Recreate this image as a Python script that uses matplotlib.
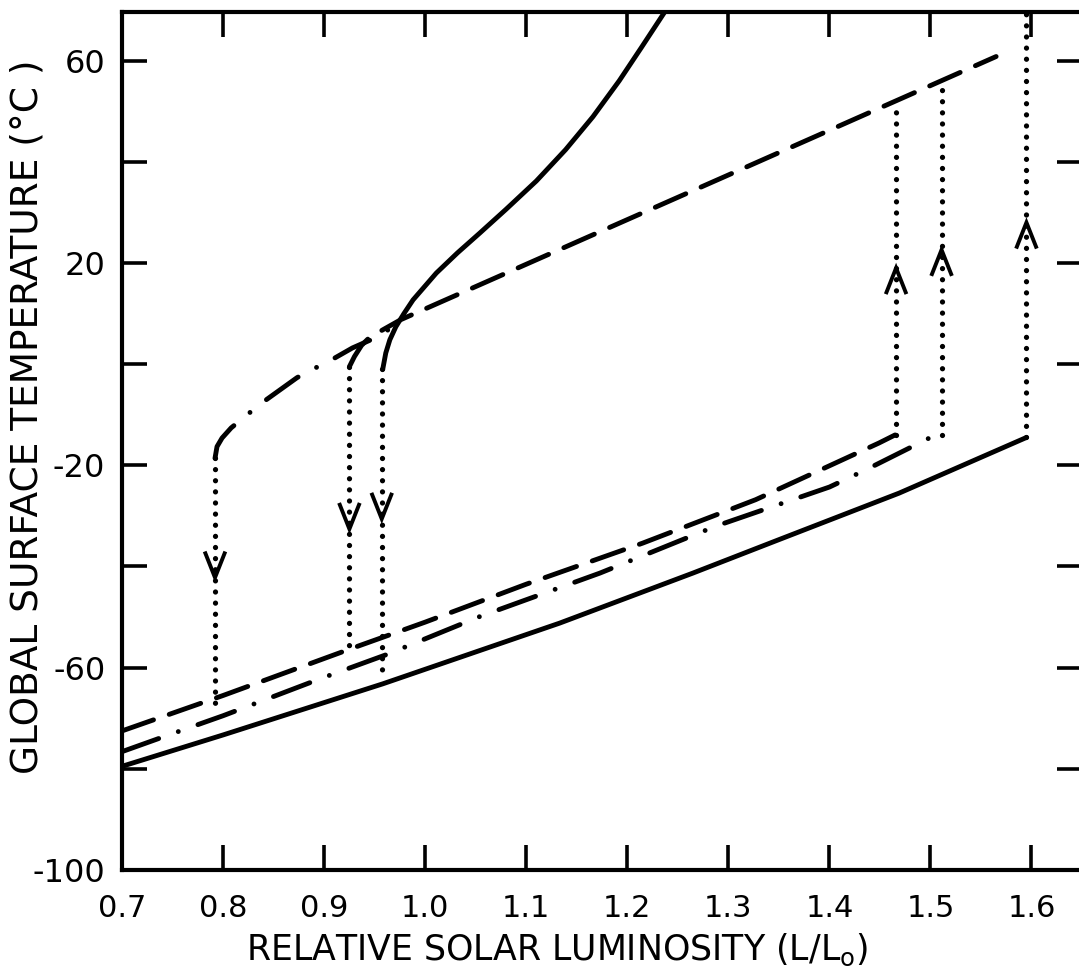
import numpy as np
import matplotlib.pyplot as plt

plt.rcParams['lines.scale_dashes'] = False
plt.rcParams['font.family'] = 'DejaVu Sans'
plt.rcParams['mathtext.fontset'] = 'dejavusans'

# lower (ice-covered) branches
solid_low_x = [0.70, 0.80, 0.958, 1.133, 1.265, 1.35, 1.469, 1.595]
solid_low_y = [-79.5, -73.3, -63.2, -51.2, -41.3, -34.7, -25.5, -14.5]
dashed_low_x = [0.70, 0.80, 0.93, 1.00, 1.10, 1.215, 1.327, 1.449, 1.465]
dashed_low_y = [-72.5, -65.5, -56.0, -51.0, -43.5, -35.4, -26.8, -15.6, -14.0]
dashdot_low_x = [0.70, 0.742, 0.80, 0.896, 0.962, 1.054, 1.173, 1.288, 1.40, 1.436, 1.505]
dashdot_low_y = [-76.6, -73.6, -69.5, -62.2, -57.4, -49.9, -41.3, -32.0, -24.3, -20.9, -14.0]

# upper (warm) branches
solid_up_x = [0.958, 0.961, 0.965, 0.971, 0.979, 0.988, 1.011, 1.032, 1.054, 1.080,
              1.110, 1.139, 1.166, 1.192, 1.214, 1.237]
solid_up_y = [-1.0, 2.2, 4.8, 7.4, 10.0, 12.7, 18.0, 22.0, 25.9, 30.6,
              36.2, 42.4, 48.9, 56.0, 62.6, 69.6]
dashed_up_x = [0.925, 0.930, 0.937, 0.945, 0.960, 0.976, 1.29, 1.565]
dashed_up_y = [-0.5, 1.5, 3.7, 5.3, 7.0, 8.8, 36.5, 60.8]
dashdot_up_x = [0.792, 0.794, 0.799, 0.808, 0.830, 0.843, 0.873, 0.887, 0.899, 0.928, 0.953, 0.965]
dashdot_up_y = [-18.6, -16.3, -14.6, -12.6, -9.0, -7.0, -2.7, -1.1, -0.1, 3.2, 5.4, 7.0]

# dotted jumps between branches
jump_x = [0.792, 0.925, 0.957, 1.466, 1.511, 1.595]
jump_from = [-18.6, -0.5, -1.0, -14.0, -14.0, -14.5]
jump_to = [-68.0, -56.0, -62.5, 50.0, 55.0, 69.6]
arrow_tip = [-42.2, -32.6, -30.6, 19.0, 22.6, 28.0]

x_ticks = [0.7, 0.8, 0.9, 1.0, 1.1, 1.2, 1.3, 1.4, 1.5, 1.6]
y_ticks = [-100, -80, -60, -40, -20, 0, 20, 40, 60]
y_labels = ['-100', '', '-60', '', '-20', '', '20', '', '60']

fig = plt.figure(figsize=(10.79, 9.77), dpi=100)
ax = fig.add_axes([0.1131, 0.1095, 0.8897, 0.8782])

lw = 3.5
dash = (0, (24, 12))
dashdot = (0, (28, 15, 0.01, 15))
dots = (0, (0.01, 8))

ax.plot(solid_low_x, solid_low_y, color='black', lw=lw, solid_capstyle='round')
ax.plot(solid_up_x, solid_up_y, color='black', lw=lw, solid_capstyle='round')
ax.plot(dashed_low_x, dashed_low_y, color='black', lw=lw, linestyle=dash, dash_capstyle='round')
ax.plot(dashed_up_x, dashed_up_y, color='black', lw=lw, linestyle=dash, dash_capstyle='round')
ax.plot(dashdot_low_x, dashdot_low_y, color='black', lw=lw, linestyle=dashdot, dash_capstyle='round')
ax.plot(dashdot_up_x, dashdot_up_y, color='black', lw=lw, linestyle=dashdot, dash_capstyle='round')

# dotted transitions with open chevron arrows
hw, hh = 0.0095, 4.8
for x0, y0, y1, tip in zip(jump_x, jump_from, jump_to, arrow_tip):
    ax.plot([x0, x0], [y0, y1], color='black', lw=3.8, linestyle=dots, dash_capstyle='round')
    s = -1 if y1 < y0 else 1
    ax.plot([x0 - hw, x0, x0 + hw], [tip - s * hh, tip, tip - s * hh],
            color='black', lw=2.8, solid_joinstyle='miter')

ax.set_xlim(0.7, 1.65)
ax.set_ylim(-100, 69.6)
ax.set_xticks(x_ticks)
ax.set_xticklabels([f'{v:.1f}' for v in x_ticks], fontsize=22)
ax.set_yticks(y_ticks)
ax.set_yticklabels(y_labels, fontsize=23)

ax.tick_params(direction='in', length=18, width=2.6, top=True, right=True)
ax.tick_params(axis='x', pad=17)
ax.tick_params(axis='y', pad=12)
for sp in ax.spines.values():
    sp.set_linewidth(3.0)

ax.set_xlabel(r'RELATIVE SOLAR LUMINOSITY (L/L$_{\mathrm{o}}$)', fontsize=25, va='baseline')
ax.xaxis.set_label_coords(0.453, -0.105)
ax.set_ylabel('GLOBAL SURFACE TEMPERATURE (°C )', fontsize=27, va='center')
ax.yaxis.set_label_coords(-0.098, 0.528)

plt.savefig('out.png', dpi=100)
